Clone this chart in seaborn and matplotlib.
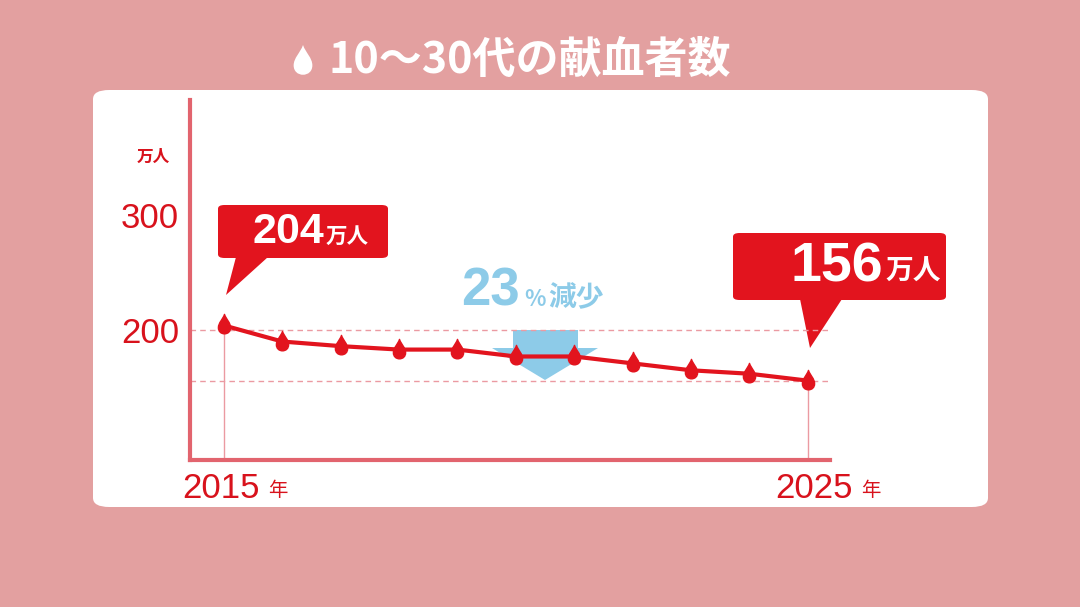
import numpy as np
import pandas as pd
import seaborn as sns
import matplotlib.pyplot as plt
from matplotlib.path import Path
from matplotlib.patches import FancyBboxPatch, Polygon, PathPatch
from matplotlib.transforms import Affine2D

years = [2015, 2016, 2017, 2018, 2019, 2020, 2021, 2022, 2023, 2024, 2025]
donors = [204, 190, 186, 183, 183, 177, 177, 171, 165, 162, 156]
y_ticks = [200, 300]
title = "10～30代の献血者数"

sns.set_theme(style="white")
plt.rcParams['font.family'] = ['Noto Sans CJK JP', 'DejaVu Sans']
NUM = ['Liberation Sans', 'DejaVu Sans']

RED = '#e2141e'
TXT = '#d8121c'
AXC = '#e2646e'
BLUE = '#8dcbe8'
W, H = 1080, 607

fig = plt.figure(figsize=(10.8, 6.07), dpi=100)
fig.patch.set_facecolor('#e3a0a0')

def px(x, y):
    return x / W, 1 - y / H

# white panel
x0, y0 = px(93, 507)
fig.patches.append(FancyBboxPatch((x0, y0), 895 / W, 417 / H,
                                  boxstyle="round,pad=0,rounding_size=0.015",
                                  transform=fig.transFigure, fc='white', ec='none', zorder=-5))

# drop path (tip up)
drop = Path([(0, 1), (0.15, 0.55), (0.55, 0.25), (0.55, -0.2),
             (0.55, -0.55), (0.3, -0.75), (0, -0.75),
             (-0.3, -0.75), (-0.55, -0.55), (-0.55, -0.2),
             (-0.55, 0.25), (-0.15, 0.55), (0, 1), (0, 1)],
            [Path.MOVETO] + [Path.CURVE4] * 12 + [Path.CLOSEPOLY])

# title
fig.text(*px(328, 60), title, color='white', fontsize=31, fontweight='bold', ha='left', va='center')
tr = Affine2D().scale(17, 17).translate(303, H - 62) + Affine2D().scale(1 / W, 1 / H) + fig.transFigure
fig.patches.append(PathPatch(drop, transform=tr, fc='white', ec='none'))

# blue arrow (behind the line)
fig.patches.append(Polygon([px(*p) for p in [(513, 330), (578, 330), (578, 348), (598, 348),
                                             (545, 380), (492, 348), (513, 348)]],
                           closed=True, transform=fig.transFigure, fc=BLUE, ec='none', zorder=-1))

ax = fig.add_axes([190 / W, 1 - 460 / H, 640 / W, 360 / H])
ax.set_zorder(2)
ax.set_facecolor('none')
ax.set_xlim(2014.42, 2025.38)
ax.set_ylim(87, 400)

df = pd.DataFrame({'year': years, 'donors': donors})
ax.axhline(donors[0] - 4, color='#eb9aa2', lw=1, ls=(0, (4, 3)), zorder=1)
ax.axhline(donors[-1], color='#eb9aa2', lw=1, ls=(0, (4, 3)), zorder=1)
ax.vlines([years[0], years[-1]], 87, [donors[0], donors[-1]], color='#eb9aa2', lw=1, zorder=1)
sns.lineplot(data=df, x='year', y='donors', color=RED, lw=3, ax=ax, zorder=3)
ax.plot(years, donors, ls='none', marker=drop, markersize=16, color=RED, zorder=4)

for s in ['top', 'right']:
    ax.spines[s].set_visible(False)
for s in ['left', 'bottom']:
    ax.spines[s].set_color(AXC)
    ax.spines[s].set_linewidth(3)
ax.set_yticks(y_ticks)
ax.set_yticklabels([str(v) for v in y_ticks], color=TXT, fontsize=25, family=NUM)
ax.tick_params(axis='y', length=0, pad=8)
ax.set_xticks([])
ax.set_xlabel('')
ax.set_ylabel('')
fig.text(*px(153, 157), '万人', color=TXT, fontsize=12, ha='center', va='center', fontweight='bold')
for xp, yr in [(182, '2015'), (775, '2025')]:
    fig.text(*px(xp, 488), yr, color=TXT, fontsize=25, ha='left', va='center', family=NUM)
    fig.text(*px(xp + 86, 491), '年', color=TXT, fontsize=14, ha='left', va='center')

# callouts
def callout(bx0, by0, bx1, by1, poly, num, fs_num, xsplit, ty):
    a, b = px(bx0, by1)
    fig.patches.append(FancyBboxPatch((a, b), (bx1 - bx0) / W, (by1 - by0) / H,
                                      boxstyle="round,pad=0,rounding_size=0.006",
                                      transform=fig.transFigure, fc=RED, ec='none'))
    fig.patches.append(Polygon([px(*p) for p in poly], closed=True,
                               transform=fig.transFigure, fc=RED, ec='none'))
    fig.text(*px(xsplit, ty), num, color='white', fontsize=fs_num, fontweight='bold',
             ha='right', va='center', family=NUM)
    fig.text(*px(xsplit + 2, ty + 4), '万人', color='white', fontsize=fs_num * 0.5,
             fontweight='bold', ha='left', va='center')

callout(218, 205, 388, 258, [(236, 257), (268, 257), (226, 295)], '204', 31, 324, 232)
callout(733, 233, 946, 300, [(800, 299), (842, 299), (810, 348)], '156', 40, 883, 268)

fig.text(*px(520, 292), '23', color=BLUE, fontsize=38, fontweight='bold', ha='right', va='center', family=NUM)
fig.text(*px(524, 300), '%', color=BLUE, fontsize=16, fontweight='bold', ha='left', va='center')
fig.text(*px(548, 298), '減少', color=BLUE, fontsize=20, fontweight='bold', ha='left', va='center')

fig.savefig('out.png', dpi=100)
